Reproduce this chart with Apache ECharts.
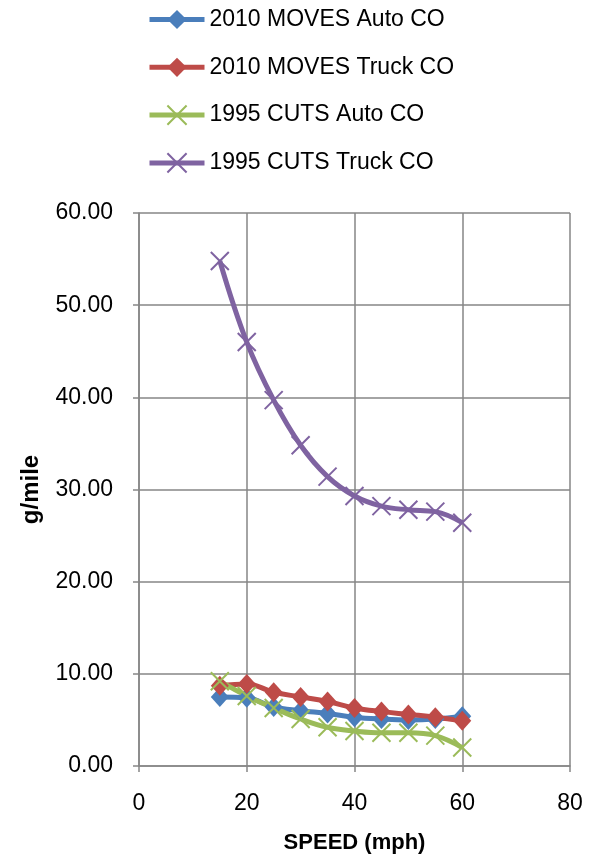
<!DOCTYPE html>
<html>
<head>
<meta charset="utf-8">
<script src="https://cdn.jsdelivr.net/npm/echarts@6/dist/echarts.min.js"></script>
<style>html,body{margin:0;padding:0;background:#fff;}#c{width:599px;height:859px;}</style>
</head>
<body>
<div id="c"></div>
<script>
const speeds = [15, 20, 25, 30, 35, 40, 45, 50, 55, 60];
const movesAuto = [7.5, 7.4, 6.4, 6.0, 5.7, 5.3, 5.1, 5.0, 5.1, 5.4];
const movesTruck = [8.7, 8.9, 8.0, 7.5, 7.0, 6.3, 5.9, 5.6, 5.3, 4.9];
const cutsAuto = [9.2, 7.6, 6.3, 5.1, 4.2, 3.8, 3.6, 3.6, 3.3, 2.0];
const cutsTruck = [54.8, 46.0, 39.7, 34.8, 31.4, 29.3, 28.2, 27.8, 27.6, 26.4];
const seriesNames = ['2010 MOVES Auto CO', '2010 MOVES Truck CO', '1995 CUTS Auto CO', '1995 CUTS Truck CO'];
const colors = ['#4A7EBB', '#BE4B48', '#9BBB59', '#7F63A1'];

const FONT = '"Liberation Sans", Arial, sans-serif';
const X_PATH = 'path://M0,0L10,10M10,0L0,10';

function pairs(vals) { return speeds.map((s, i) => [s, vals[i]]); }

function mk(name, vals, color, isX) {
  return {
    name: name,
    type: 'line',
    data: pairs(vals),
    smooth: 0.4,
    symbol: isX ? X_PATH : 'diamond',
    symbolSize: isX ? 18 : [18, 20],
    showAllSymbol: true,
    lineStyle: { color: color, width: 5 },
    itemStyle: isX ? { color: color, borderColor: color, borderWidth: 2 } : { color: color, borderWidth: 0 },
    emphasis: { disabled: true },
    z: 2
  };
}

const chart = echarts.init(document.getElementById('c'));
chart.setOption({
  animation: false,
  backgroundColor: '#fff',
  color: colors,
  legend: {
    orient: 'vertical',
    left: 147,
    top: 8,
    padding: 0,
    itemWidth: 55,
    itemHeight: 24,
    itemGap: 24.8,
    lineStyle: { width: 'inherit' },
    textStyle: { fontFamily: FONT, fontSize: 23, color: '#000' },
    data: seriesNames
  },
  grid: { left: 139, right: 29, top: 213, bottom: 88, containLabel: false },
  xAxis: {
    type: 'value', min: 0, max: 80, interval: 20,
    name: 'SPEED (mph)', nameLocation: 'middle', nameGap: 66,
    nameTextStyle: { fontFamily: FONT, fontSize: 22, fontWeight: 'bold', color: '#000' },
    axisLine: { show: true, lineStyle: { color: '#868686', width: 1.5 } },
    axisTick: { show: true, length: 6, lineStyle: { color: '#868686', width: 1.5 } },
    axisLabel: { fontFamily: FONT, fontSize: 23, color: '#000', margin: 26 },
    splitLine: { show: true, lineStyle: { color: '#868686', width: 1.5 } }
  },
  yAxis: {
    type: 'value', min: 0, max: 60, interval: 10,
    name: 'g/mile', nameLocation: 'middle', nameGap: 96,
    nameTextStyle: { fontFamily: FONT, fontSize: 24, fontWeight: 'bold', color: '#000' },
    axisLine: { show: true, lineStyle: { color: '#868686', width: 1.5 } },
    axisTick: { show: true, length: 6, lineStyle: { color: '#868686', width: 1.5 } },
    axisLabel: { fontFamily: FONT, fontSize: 23, color: '#000', margin: 26, formatter: v => v.toFixed(2) },
    splitLine: { show: true, lineStyle: { color: '#868686', width: 1.5 } }
  },
  series: [
    mk(seriesNames[0], movesAuto, colors[0], false),
    mk(seriesNames[1], movesTruck, colors[1], false),
    mk(seriesNames[2], cutsAuto, colors[2], true),
    mk(seriesNames[3], cutsTruck, colors[3], true)
  ]
});
</script>
</body>
</html>
